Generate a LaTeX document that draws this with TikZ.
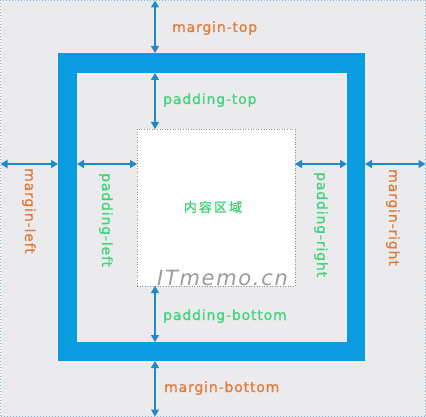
\documentclass[tikz,border=0pt]{standalone}
\usepackage{fontspec}
\usepackage{xcolor}
\usetikzlibrary{arrows.meta}

\newfontfamily\labelfont[LetterSpace=6,FakeBold=0.6]{DejaVu Sans}
\newfontfamily\cjkfont[LetterSpace=16,FakeBold=1.2]{Noto Sans CJK SC}
\newfontfamily\markfont[LetterSpace=8]{DejaVu Sans}

\definecolor{bggray}{HTML}{EBEAEC}
\definecolor{edgeblue}{HTML}{7FB9E0}
\definecolor{borderblue}{HTML}{0A9BE1}
\definecolor{arrowblue}{HTML}{1F8AC6}
\definecolor{marginorange}{HTML}{E07B39}
\definecolor{paddinggreen}{HTML}{3DD47A}
\definecolor{dotgray}{HTML}{8F8F8F}
\definecolor{markgray}{HTML}{9C9CA0}

\tikzset{
    box/.style={inner sep=0pt, outer sep=0pt},
    dim/.style={{Triangle[width=8pt,length=7pt]}-{Triangle[width=8pt,length=7pt]}, draw=arrowblue, line width=1.2pt},
    marginlbl/.style={font=\labelfont\fontsize{14}{16}\selectfont, text=marginorange, inner sep=0pt, anchor=base west},
    paddinglbl/.style={font=\labelfont\fontsize{14}{16}\selectfont, text=paddinggreen, inner sep=0pt, anchor=base west}
}

\begin{document}
\begin{tikzpicture}[x=1pt,y=-1pt]
    \useasboundingbox (0,0) rectangle (426,417);
    % Draw the background and the boxes
    \node[box, fill=bggray, draw=edgeblue, dotted, line width=1pt, minimum width=425pt, minimum height=416pt] (canvas) at (213,208.5) {};
    \node[box, fill=borderblue, minimum width=307pt, minimum height=308pt] (border) at (211.5,207) {};
    \node[box, fill=bggray, minimum width=270pt, minimum height=269pt] (padbox) at (212,207.5) {};
    \node[box, fill=white, draw=dotgray, dotted, line width=0.6pt, minimum width=158pt, minimum height=157pt] (content) at (216,207.5) {};
    \coordinate (ax) at (155,164);

    % Vertical arrows
    \draw[dim] (canvas.north -| ax) -- (border.north -| ax);
    \draw[dim] (padbox.north -| ax) -- (content.north -| ax);
    \draw[dim] (content.south -| ax) -- (padbox.south -| ax);
    \draw[dim] (border.south -| ax) -- (canvas.south -| ax);
    % Horizontal arrows
    \draw[dim] (canvas.west |- ax) -- (border.west |- ax);
    \draw[dim] (padbox.west |- ax) -- (content.west |- ax);
    \draw[dim] (content.east |- ax) -- (padbox.east |- ax);
    \draw[dim] (border.east |- ax) -- (canvas.east |- ax);

    % Labels
    \node[marginlbl] (mtop) at (172,32) {margin-top};
    \node[paddinglbl] (ptop) at (163,104) {padding-top};
    \node[paddinglbl] (pbot) at (163,320) {padding-bottom};
    \node[marginlbl] (mbot) at (164,392) {margin-bottom};
    \node[marginlbl, rotate=-90] (mleft) at (25,168) {margin-left};
    \node[paddinglbl, rotate=-90] (pleft) at (102,173) {padding-left};
    \node[paddinglbl, rotate=-90] (pright) at (317,172) {padding-right};
    \node[marginlbl, rotate=-90] (mright) at (389,169) {margin-right};
    \node[font=\cjkfont\fontsize{13}{15}\selectfont, text=paddinggreen, inner sep=0pt] (cnt) at (213,207) {内容区域};
    \node[font=\markfont\itshape\fontsize{21}{23}\selectfont, text=markgray, inner sep=0pt, anchor=base west] (mark) at (157,285) {ITmemo.cn};
\end{tikzpicture}
\end{document}
